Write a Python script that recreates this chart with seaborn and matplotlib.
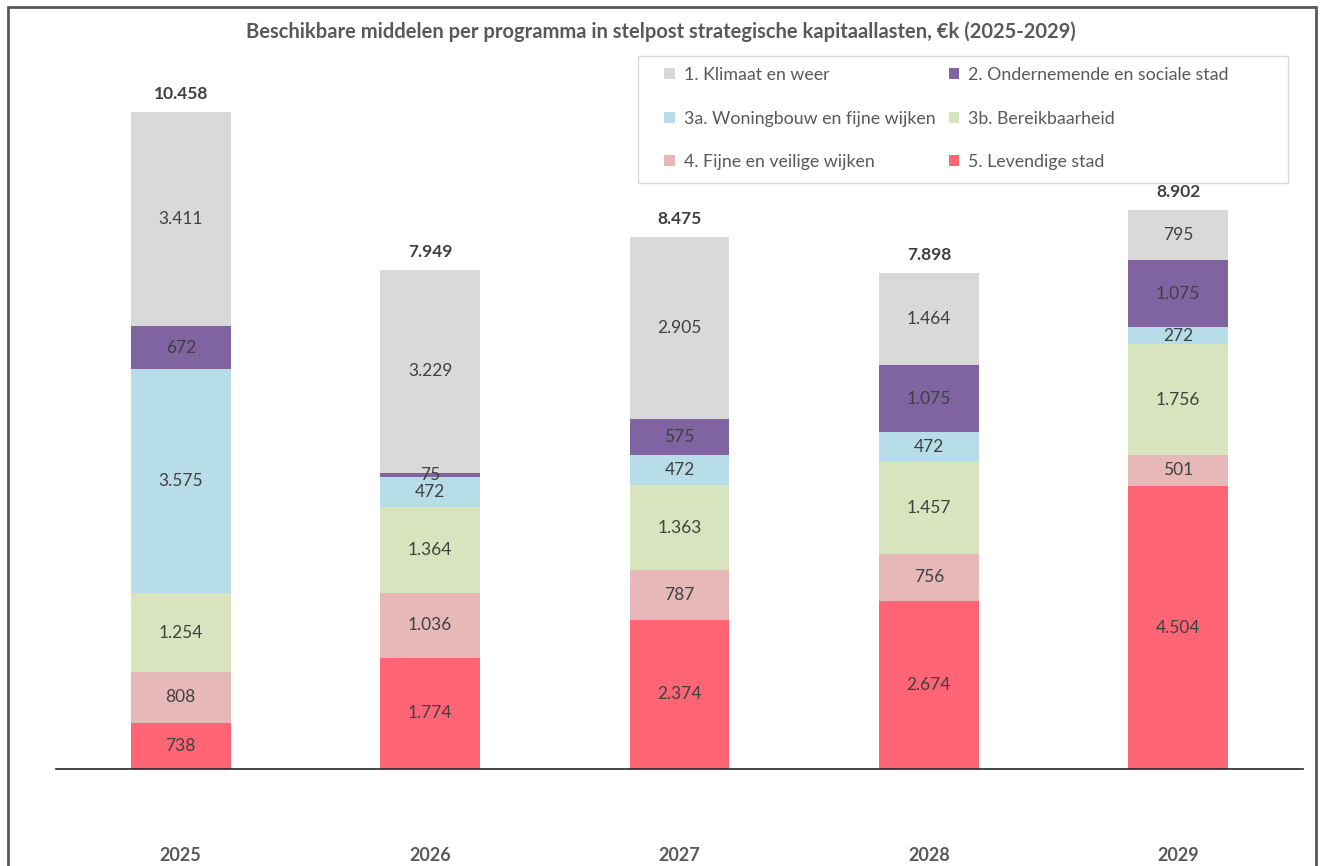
import matplotlib
matplotlib.use("Agg")
import matplotlib.pyplot as plt
from matplotlib.patches import Patch, Rectangle
import numpy as np
import pandas as pd
import seaborn as sns

# data (€k)
years = ["2025", "2026", "2027", "2028", "2029"]
programmes = [
    "5. Levendige stad",
    "4. Fijne en veilige wijken",
    "3b. Bereikbaarheid",
    "3a. Woningbouw en fijne wijken",
    "2. Ondernemende en sociale stad",
    "1. Klimaat en weer",
]
levendige = [738, 1774, 2374, 2674, 4504]
veilig = [808, 1036, 787, 756, 501]
bereikbaar = [1254, 1364, 1363, 1457, 1756]
woningbouw = [3575, 472, 472, 472, 272]
ondernemend = [672, 75, 575, 1075, 1075]
klimaat = [3411, 3229, 2905, 1464, 795]
totals = [10458, 7949, 8475, 7898, 8902]

colors = ["#FF6575", "#E6B9B8", "#D7E4BD", "#B7DEE8", "#8064A2", "#D9D9D9"]
series = [levendige, veilig, bereikbaar, woningbouw, ondernemend, klimaat]

W, H = 1322, 866


def nl(v):
    return f"{v:,}".replace(",", ".")


sns.set_style("white")
plt.rcParams["font.family"] = ["Lato", "DejaVu Sans"]

fig = plt.figure(figsize=(W / 100, H / 100), dpi=100)
ax = fig.add_axes([56 / W, 97 / H, 1247 / W, 709 / H])

bottom = np.zeros(len(years))
for name, vals, col in zip(programmes, series, colors):
    df = pd.DataFrame({"jaar": years, "waarde": vals})
    sns.barplot(data=df, x="jaar", y="waarde", color=col, width=0.4,
                bottom=bottom, errorbar=None, ax=ax, saturation=1,
                linewidth=0)
    bottom = bottom + np.array(vals)

for cont, vals in zip(ax.containers, series):
    ax.bar_label(cont, labels=[nl(v) for v in vals], label_type="center",
                 fontsize=12.5, color="#404040")

for i, t in enumerate(totals):
    ax.annotate(nl(t), (i, bottom[i]), xytext=(0, 13), textcoords="offset points",
                ha="center", va="center", fontsize=12.5, fontweight="bold",
                color="#404040")

ax.set_xlim(-0.5, 4.5)
ax.set_ylim(0, 11290)
ax.set_xlabel("")
ax.set_ylabel("")
ax.set_yticks([])
for s in ["top", "right", "left"]:
    ax.spines[s].set_visible(False)
ax.spines["bottom"].set_color("#262626")
ax.spines["bottom"].set_linewidth(1.2)
ax.tick_params(axis="x", length=0, pad=56, labelsize=13, labelcolor="#595959")
for lbl in ax.get_xticklabels():
    lbl.set_fontweight("bold")

fig.text(0.5, 1 - 32 / H, "Beschikbare middelen per programma in stelpost strategische kapitaallasten, €k (2025-2029)",
         ha="center", va="center", fontsize=14.5, fontweight="bold", color="#595959")

# legend, rows read left to right; frame drawn separately
order = [5, 3, 1, 4, 2, 0]
handles = [Patch(facecolor=colors[k], edgecolor="none", label=programmes[k]) for k in order]
leg = fig.legend(handles=handles, ncol=2, loc="upper left",
                 bbox_to_anchor=(664 / W, 1 - 67 / H), borderaxespad=0,
                 fontsize=12.8, handlelength=0.6, handleheight=0.6, handletextpad=0.5,
                 labelspacing=1.55, columnspacing=0.75, borderpad=0,
                 frameon=False)
for t in leg.get_texts():
    t.set_color("#595959")
fig.patches.append(Rectangle((638 / W, 1 - 183 / H), 650 / W, 127 / H,
                             transform=fig.transFigure, fill=False,
                             edgecolor="#D9D9D9", linewidth=1))

# outer frame of the chart
fig.patches.append(Rectangle((8 / W, -0.05), 1308 / W, 1.05 - 7 / H,
                             transform=fig.transFigure, fill=False,
                             edgecolor="#595959", linewidth=2))

fig.savefig("out.png", dpi=100)
